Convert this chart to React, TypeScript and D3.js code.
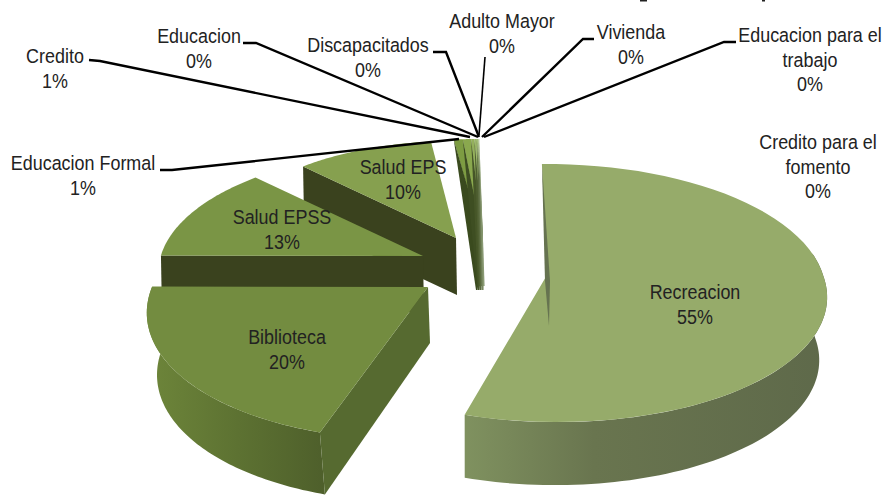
import React from "react";
import * as d3 from "d3";

// ---- data ----
const categories = ["Recreacion","Biblioteca","Salud EPSS","Salud EPS","Educacion Formal","Credito","Educacion","Discapacitados","Adulto Mayor","Vivienda","Educacion para el trabajo","Credito para el fomento"];
const values = [55,20.4,12.6,10.45,0.55,0.5,0.2,0.14,0.08,0.04,0.03,0.01];
const percentLabels = ["55%","20%","13%","10%","1%","1%","0%","0%","0%","0%","0%","0%"];
const labelLines = [["Recreacion"],["Biblioteca"],["Salud EPSS"],["Salud EPS"],["Educacion Formal"],["Credito"],["Educacion"],["Discapacitados"],["Adulto Mayor"],["Vivienda"],["Educacion para el","trabajo"],["Credito para el","fomento"]];

// ---- layout ----
const W = 883, H = 495;
const fanGeom = { x: 485, y: 240, r: 0.9, xs: 1.2, ys: 1, shear: 0, depth: 52, apexDepth: 50, rim: 1, anchor: 0 };
const sliceGeom = [
  { x: 547, y: 275, r: 1, xs: 1, ys: 1, shear: 0.07, depth: 63, apexDepth: 51, rim: 0.978, anchor: 467 },
  { x: 428, y: 287, r: 1, xs: 1, ys: 1.04, shear: -0.11, depth: 62, apexDepth: 56, rim: 0.97, anchor: 487 },
  { x: 423, y: 256, r: 0.95, xs: 1, ys: 1, shear: 0, depth: 56, apexDepth: 56, rim: 1, anchor: 0 },
  { x: 456, y: 238, r: 0.86, xs: 1, ys: 1, shear: 0, depth: 57, apexDepth: 57, rim: 1, anchor: 0 },
];
const topColors = ["#96ab6a","#738c40","#7a9545","#86a04f","#7d9c42","#8aa84e","#94b05c","#9cb86a","#a4bd78","#aec688","#bacf9c","#c6d8b0"];
const wallColors = ["#667350","#566a30","#3a421e","#3a421e","#3a4a1e","#3e4e22","#465628","#4e5e30","#5a6a3e","#68784e","#788860","#8a9a74"];
const labelPos: [number, number][] = [[695,292],[287,337],[282,217],[403,167],[83,163],[55,56],[199,36],[368,45],[502,21],[631,32],[810,35],[818,142]];
const leaders: ([number, number][] | null)[] = [null,null,null,null,
  [[160,170],[172,170],[459,139]],
  [[89,60],[100,61],[470,137]],
  [[243,43],[256,43],[478,137]],
  [[433,52],[446,52],[479,137]],
  [[485,57],[479,135]],
  [[594,39],[583,39],[482,137]],
  [[736,42],[724,42],[484,137]],
  null];
const titleRemnants: [number, number][] = [[640,7],[762,3]];
const LINE_H = 24.5;
const FONT_SIZE = 19.5;
const TEXT_SX = 0.92;

// perspective projection of the unit disc
const AX = 276, AY = 126.5, P = 0.14;
const project = (deg: number, g: { r: number; xs: number; ys: number; shear: number }): [number, number] => {
  const a = (deg * Math.PI) / 180;
  const u = Math.sin(a) * g.r, v = -Math.cos(a) * g.r;
  const w = 1 - P * v;
  const sy = ((AY * v) / w) * g.ys;
  return [((AX * u) / w) * g.xs + g.shear * Math.max(sy, 0), sy];
};

const line = d3.line<[number, number]>();

export default function App() {
  const total = d3.sum(values);
  const pie = d3.pie<number>().sort(null).startAngle((-1.2 * Math.PI) / 180).endAngle(((360 - 1.2) * Math.PI) / 180);
  const arcs = pie(values.map((v) => v / total));
  const deg = (x: number) => (x * 180) / Math.PI;

  const slices = arcs.map((a, i) => {
    const s0 = deg(a.startAngle), s1 = deg(a.endAngle);
    const g = i < 4 ? sliceGeom[i] : fanGeom;
    const rimPts = d3.range(0, 61).map((k) => {
      const t = s0 + ((s1 - s0) * k) / 60;
      const p = project(t, g);
      return [p[0] + g.x, p[1] + g.y] as [number, number];
    });
    const top = line([[g.x - 3, g.y], ...rimPts])! + "Z";
    const O = rimPts[0];
    const isSliver = i === 0 || i >= 4;
    let wallPts: [number, number][];
    if (i === 0) {
      wallPts = [O, [g.x - 2, g.y + 6], [g.x + 2, g.y + g.apexDepth], [g.x + 3, g.y + 6]];
    } else if (i >= 4) {
      const k = i - 4;
      const bx = g.x - 9 + k * 1;
      wallPts = [O, [bx, g.y + g.apexDepth - (k % 2) * 4], [bx + 1.6, g.y + g.apexDepth - (k % 2) * 4], [g.x - 2, g.y]];
    } else {
      wallPts = [O, [g.x, g.y], [g.x + (i === 1 ? 2 : 1), g.y + g.apexDepth], [O[0] + (i === 1 ? 5 : 1), O[1] + g.depth]];
    }
    const wall = line(wallPts)! + "Z";
    // outer wall, only where the rim faces the viewer
    const lo = Math.max(s0, 80), hi = Math.min(s1, 270);
    let outer: string | null = null;
    if (i < 2 && hi > lo) {
      const up = d3.range(0, 81).map((k) => {
        const t = lo + ((hi - lo) * k) / 80;
        const p = project(t, g);
        return [p[0] + g.x, p[1] + g.y] as [number, number];
      });
      const down = up.map(([x, y]) => [g.anchor + g.rim * (x - g.anchor), y + g.depth] as [number, number]).reverse();
      outer = line([...up, ...down])! + "Z";
    }
    return { i, top: i < 4 ? line([[g.x, g.y], ...rimPts])! + "Z" : top, wall, outer, isSliver };
  });

  const drawOrder = [4,5,6,7,8,9,10,11,3,2,1,0];

  return (
    <svg width={W} height={H} style={{ position: "absolute", left: 0, top: 0, background: "#fff" }}>
      <defs>
        <linearGradient id="recWall" gradientUnits="userSpaceOnUse" x1="467" x2="830" y1="0" y2="0">
          <stop offset="0" stopColor="#7f915f" />
          <stop offset="0.35" stopColor="#69754f" />
          <stop offset="1" stopColor="#5e694a" />
        </linearGradient>
        <linearGradient id="bibWall" gradientUnits="userSpaceOnUse" x1="150" x2="325" y1="0" y2="0">
          <stop offset="0" stopColor="#6d853a" />
          <stop offset="0.5" stopColor="#5d7232" />
          <stop offset="1" stopColor="#4e5f2b" />
        </linearGradient>
      </defs>
      {titleRemnants.map(([x, w]) => (
        <rect key={x} x={x} y={0} width={w} height={1.5} fill="#222" />
      ))}
      {drawOrder.map((i) => {
        const s = slices[i];
        return (
          <g key={categories[i]}>
            {s.outer && <path d={s.outer} fill={i === 0 ? "url(#recWall)" : "url(#bibWall)"} />}
            {!s.isSliver && <path d={s.wall} fill={wallColors[i]} />}
            <path d={s.top} fill={topColors[i]} />
            {s.isSliver && <path d={s.wall} fill={wallColors[i]} />}
          </g>
        );
      })}
      {leaders.map((l, i) => l && (
        <path key={i} d={line(l)!} fill="none" stroke="#000" strokeWidth={i === 8 ? 1.6 : 2.4} />
      ))}
      {labelPos.map(([x, y], i) => {
        const rows = [...labelLines[i], percentLabels[i]];
        return (
          <text key={i} transform={`translate(${x},${y}) scale(${TEXT_SX},1)`} fontFamily="'Liberation Sans', Arial, sans-serif" fontSize={FONT_SIZE} fill="#222" textAnchor="middle" dominantBaseline="central">
            {rows.map((t, k) => (
              <tspan key={k} x={0} dy={k === 0 ? 0 : LINE_H}>{t}</tspan>
            ))}
          </text>
        );
      })}
    </svg>
  );
}
